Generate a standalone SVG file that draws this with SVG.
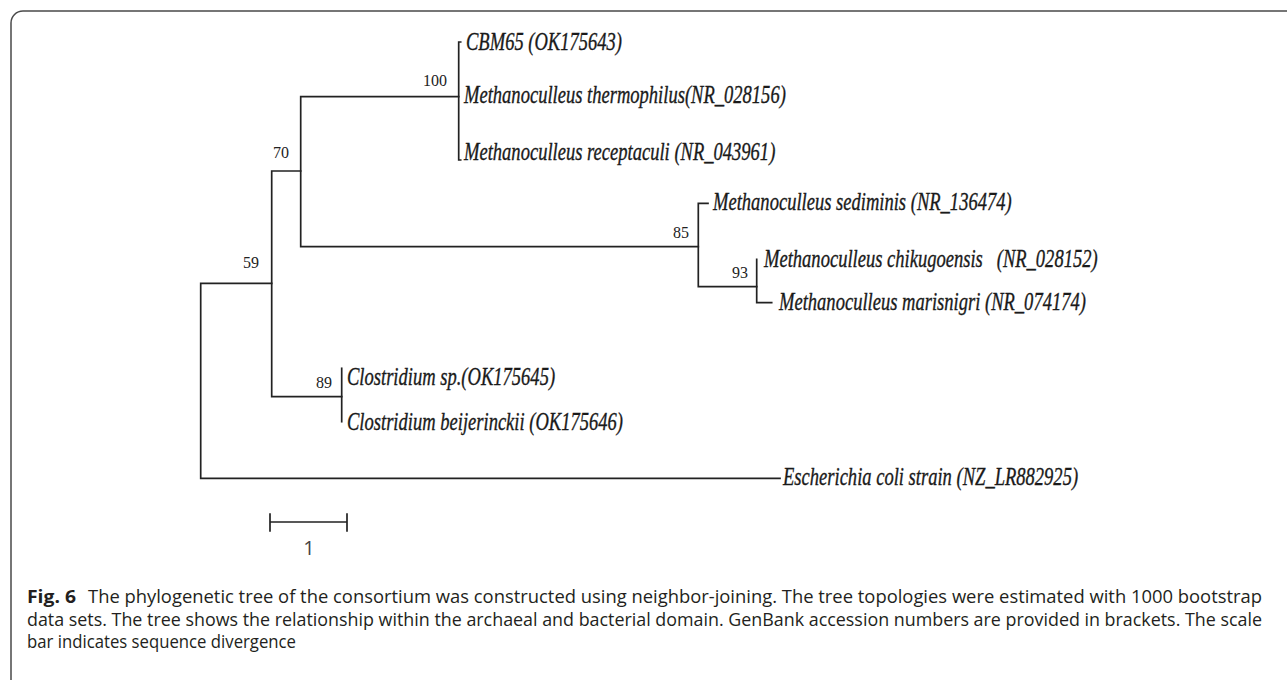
<svg xmlns="http://www.w3.org/2000/svg" width="1287" height="680" viewBox="0 0 1287 680">
<style>
.frame{fill:none;stroke:#4a4a4a;stroke-width:1.5}
.br{fill:none;stroke:#222;stroke-width:1.7;stroke-linecap:square}
.tip{font-family:"Liberation Serif","Times New Roman",serif;font-style:italic;font-size:25px;fill:#1a1a1a;stroke:#1a1a1a;stroke-width:0.35;white-space:pre}
.bs{font-family:"Liberation Serif","Times New Roman",serif;font-size:16px;fill:#222}
.cap{font-family:"Open Sans","Noto Sans",sans-serif;font-size:18px;fill:#231f20}
.capb{font-family:"Open Sans","Noto Sans",sans-serif;font-size:18px;font-weight:bold;fill:#231f20}
.scl{font-family:"Open Sans","Noto Sans",sans-serif;font-size:20px;fill:#444}
</style>
<rect width="1287" height="680" fill="#fff"/>
<path class="frame" d="M11 680 V23 A12 12 0 0 1 23 11 H1287"/>

<g id="connectors">
  <path class="br" d="M200.7 283.3 V478.3 M200.7 283.3 H271.7 M200.7 478.3 H780"/>
  <path class="br" d="M271.7 171 V396.7 M271.7 171 H300.7 M271.7 396.7 H341.7"/>
  <path class="br" d="M300.7 96.7 V246.7 M300.7 96.7 H458.7 M300.7 246.7 H698.3"/>
  <path class="br" d="M460.7 42 H458.7 V160 H460.7"/>
  <path class="br" d="M708 203.3 H698.3 V286.7 H756.7"/>
  <path class="br" d="M756.7 259.3 V302.7 H771.7"/>
  <path class="br" d="M341.7 368.3 V421.7"/>
</g>

<g id="node-59"><text class="bs" x="243" y="268">59</text></g>
<g id="node-70"><text class="bs" x="273" y="158">70</text></g>
<g id="node-100"><text class="bs" x="423" y="86">100</text></g>
<g id="node-85"><text class="bs" x="673" y="238">85</text></g>
<g id="node-93"><text class="bs" x="732" y="278">93</text></g>
<g id="node-89"><text class="bs" x="316" y="388">89</text></g>

<g id="tip-cbm65"><text class="tip" transform="translate(466 50) scale(0.742 1)">CBM65 (OK175643)</text></g>
<g id="tip-thermophilus"><text class="tip" transform="translate(464 103) scale(0.742 1)">Methanoculleus thermophilus(NR_028156)</text></g>
<g id="tip-receptaculi"><text class="tip" transform="translate(464 160) scale(0.742 1)">Methanoculleus receptaculi (NR_043961)</text></g>
<g id="tip-sediminis"><text class="tip" transform="translate(713 210) scale(0.742 1)">Methanoculleus sediminis (NR_136474)</text></g>
<g id="tip-chikugoensis"><text class="tip" transform="translate(764 266.7) scale(0.742 1)">Methanoculleus chikugoensis   (NR_028152)</text></g>
<g id="tip-marisnigri"><text class="tip" transform="translate(779 310) scale(0.742 1)">Methanoculleus marisnigri (NR_074174)</text></g>
<g id="tip-clostridium-sp"><text class="tip" transform="translate(347 385) scale(0.742 1)">Clostridium sp.(OK175645)</text></g>
<g id="tip-clostridium-beijerinckii"><text class="tip" transform="translate(347 430) scale(0.742 1)">Clostridium beijerinckii (OK175646)</text></g>
<g id="tip-ecoli"><text class="tip" transform="translate(783 485) scale(0.742 1)">Escherichia coli strain (NZ_LR882925)</text></g>

<g id="scale-bar">
  <path class="br" d="M270 522 H347 M270 514 V531 M347 514 V531"/>
  <text class="scl" x="309" y="555" text-anchor="middle">1</text>
</g>

<g id="caption">
  <text class="capb" x="27" y="603" textLength="49" lengthAdjust="spacingAndGlyphs">Fig. 6</text>
  <text class="cap" x="88" y="603" textLength="1174" lengthAdjust="spacingAndGlyphs">The phylogenetic tree of the consortium was constructed using neighbor-joining. The tree topologies were estimated with 1000 bootstrap</text>
  <text class="cap" x="27" y="626" textLength="1235" lengthAdjust="spacingAndGlyphs">data sets. The tree shows the relationship within the archaeal and bacterial domain. GenBank accession numbers are provided in brackets. The scale</text>
  <text class="cap" x="27" y="648" textLength="269" lengthAdjust="spacingAndGlyphs">bar indicates sequence divergence</text>
</g>
</svg>
